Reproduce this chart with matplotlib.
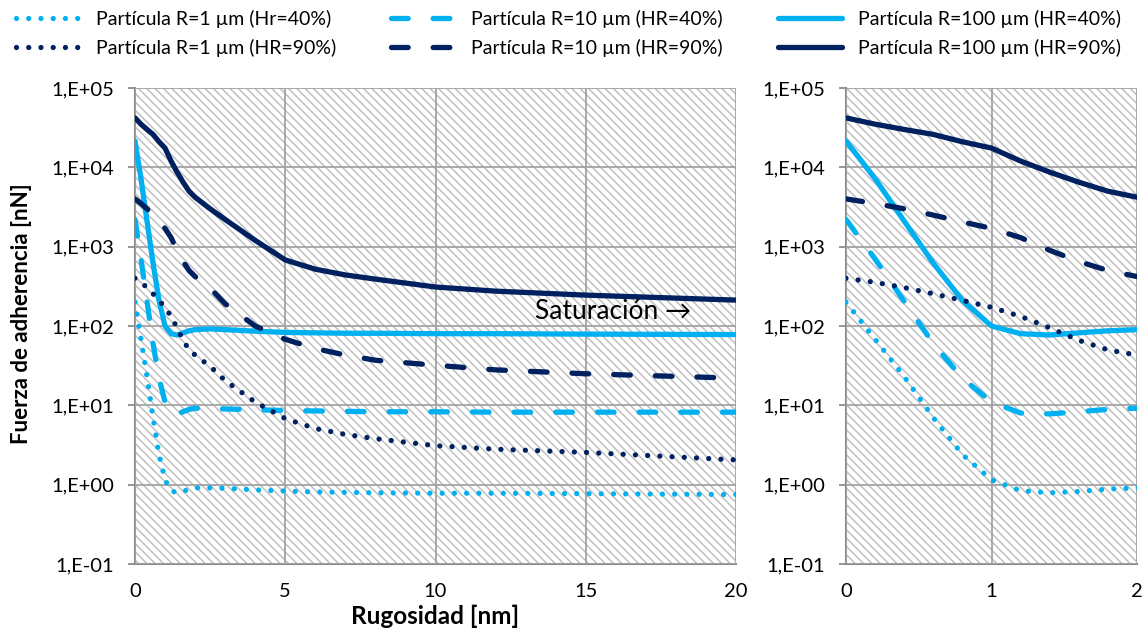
import math
import matplotlib
matplotlib.use("Agg")
import matplotlib.pyplot as plt
from matplotlib.patches import Rectangle
from matplotlib.lines import Line2D
from matplotlib.ticker import FixedLocator, FuncFormatter, NullLocator

plt.rcParams["font.family"] = ["Lato", "DejaVu Sans"]
plt.rcParams["lines.scale_dashes"] = False
plt.rcParams["hatch.linewidth"] = 1.1

# ── Data: adhesion force [nN] vs roughness [nm] ────────────────────────────
rugosidad = [0, 0.2, 0.4, 0.6, 0.8, 1.0, 1.2, 1.4, 1.6, 1.8, 2.0,
             2.5, 3, 4, 5, 6, 7, 8, 10, 12, 15, 20]

f_r1_hr40 = [200, 68, 23, 7.0, 2.4, 1.15, 0.84, 0.79, 0.82, 0.88, 0.91,
             0.91, 0.90, 0.86, 0.83, 0.81, 0.80, 0.79, 0.78, 0.78, 0.77, 0.75]
f_r10_hr40 = [2200, 700, 205, 60, 22, 11, 8.0, 7.8, 8.3, 8.9, 9.2,
              9.1, 9.0, 8.8, 8.6, 8.5, 8.4, 8.3, 8.3, 8.2, 8.2, 8.2]
f_r100_hr40 = [21500, 7200, 2100, 620, 210, 100, 80, 77, 82, 87, 90,
               92, 90, 86, 83, 82, 81, 81, 80, 80, 79, 78]
f_r1_hr90 = [400, 355, 305, 255, 210, 172, 132, 95, 66, 50, 43,
             31, 20.5, 11, 6.8, 5.1, 4.3, 3.8, 3.1, 2.8, 2.55, 2.05]
f_r10_hr90 = [4000, 3500, 3000, 2500, 2050, 1700, 1300, 900, 650, 500, 420,
              300, 190, 100, 68, 52, 43, 37, 32, 28, 25, 22]
f_r100_hr90 = [42000, 35000, 30000, 26000, 21000, 17500, 12000, 8700, 6500, 5000, 4200,
               3000, 2200, 1200, 680, 520, 440, 390, 310, 275, 245, 212]

y_ticks = [1e-1, 1e0, 1e1, 1e2, 1e3, 1e4, 1e5]

LIGHT = "#00B0F0"
NAVY = "#002060"
DASH = (0, (12, 18))
DOT = (0, (0.01, 8.8))
LW = 3.8

series = [
    ("Partícula R=1 µm (Hr=40%)", f_r1_hr40, LIGHT, DOT),
    ("Partícula R=10 µm (HR=40%)", f_r10_hr40, LIGHT, DASH),
    ("Partícula R=100 µm (HR=40%)", f_r100_hr40, LIGHT, "-"),
    ("Partícula R=1 µm (HR=90%)", f_r1_hr90, NAVY, DOT),
    ("Partícula R=10 µm (HR=90%)", f_r10_hr90, NAVY, DASH),
    ("Partícula R=100 µm (HR=90%)", f_r100_hr90, NAVY, "-"),
]

W, H = 1143, 633
fig = plt.figure(figsize=(W / 100, H / 100), dpi=100)
top, bottom = 88, 564
ax_full = fig.add_axes([135 / W, 1 - bottom / H, (736 - 135) / W, (bottom - top) / H])
ax_zoom = fig.add_axes([846 / W, 1 - bottom / H, (1137 - 846) / W, (bottom - top) / H])


def sci_label(v, pos):
    e = int(round(math.log10(v)))
    return f"1,E{e:+03d}"


def style_axis(ax, xmax, xstep):
    ax.set_yscale("log")
    ax.set_ylim(1e-1, 1e5)
    ax.set_xlim(0, xmax)
    ax.add_patch(Rectangle((0, 0), 1, 1, transform=ax.transAxes, facecolor="white",
                           edgecolor="#c0c0c0", hatch="\\\\\\\\", lw=0, zorder=0))
    ax.yaxis.set_major_locator(FixedLocator(y_ticks))
    ax.yaxis.set_minor_locator(NullLocator())
    ax.yaxis.set_major_formatter(FuncFormatter(sci_label))
    ax.xaxis.set_major_locator(FixedLocator(list(range(0, xmax + 1, xstep))))
    ax.grid(True, color="#a3a3a3", lw=1.3, zorder=1)
    ax.set_axisbelow(False)
    for side in ("top", "right"):
        ax.spines[side].set_visible(False)
    for side in ("left", "bottom"):
        ax.spines[side].set_color("#8c8c8c")
        ax.spines[side].set_linewidth(1.5)
    ax.tick_params(axis="y", length=5, width=1.3, color="#8c8c8c", pad=10, labelsize=14.5)
    ax.tick_params(axis="x", length=0, pad=14, labelsize=14.5)
    for label, vals, color, ls in series:
        ax.plot(rugosidad, vals, color=color, ls=ls, lw=LW, dash_capstyle="round",
                solid_capstyle="round", solid_joinstyle="round", zorder=3)


style_axis(ax_full, 20, 5)
style_axis(ax_zoom, 2, 1)

ax_full.set_xlabel("Rugosidad [nm]", fontsize=17.5, fontweight="bold", labelpad=3)
ax_full.set_ylabel("Fuerza de adherencia [nN]", fontsize=16, fontweight="bold")
ax_full.yaxis.set_label_coords(-0.171, 0.527)
ax_full.text(13.3, 152, "Saturación →", ha="left", va="center", fontsize=19, zorder=4)

# legend laid out column by column: R=1, R=10, R=100
order = [0, 3, 1, 4, 2, 5]
handles = [Line2D([], [], color=series[i][2], ls=series[i][3], lw=LW,
                  dash_capstyle="round", solid_capstyle="round") for i in order]
labels = [series[i][0] for i in order]
fig.legend(handles, labels, ncol=3, loc="upper left", bbox_to_anchor=(16 / W, 1 - 10 / H),
           frameon=False, fontsize=14, handlelength=3.3, handletextpad=0.8,
           columnspacing=2.85, labelspacing=0.55, borderpad=0, borderaxespad=0)

fig.savefig("out.png", dpi=100)
